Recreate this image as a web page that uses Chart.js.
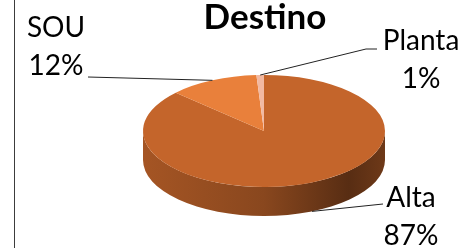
<!DOCTYPE html>
<html>
<head>
<meta charset="utf-8">
<script src="https://cdn.jsdelivr.net/npm/chart.js@4"></script>
<style>
  html, body { margin: 0; padding: 0; background: #fff; }
  #wrap { position: relative; width: 466px; height: 248px; }
  #frame { position: absolute; left: 14px; top: 0; height: 248px; border-left: 1px solid #3c3c3c; }
</style>
</head>
<body>
<div id="wrap">
  <canvas id="destinoChart"></canvas>
  <div id="frame"></div>
</div>
<script>
// Data
const categories = ['Alta', 'SOU', 'Planta'];
const values = [87, 12, 1];
const sliceColors = ['#C4652B', '#E9803B', '#F2B9A2'];

function darken(hex, f) {
    const n = parseInt(hex.slice(1), 16);
    const r = Math.round(((n >> 16) & 255) * f);
    const g = Math.round(((n >> 8) & 255) * f);
    const b = Math.round((n & 255) * f);
    return `rgb(${r}, ${g}, ${b})`;
}

// maps the flat pie onto a tilted ellipse
function pieTransform(chart) {
    const arc = chart.getDatasetMeta(0).data[0];
    const o = chart.options.plugins.tilt;
    return {
        cx: arc.x, cy: arc.y, r: arc.outerRadius,
        sx: o.rx / arc.outerRadius, sy: o.ry / arc.outerRadius,
        tx: o.cx, ty: o.cy
    };
}

const tiltPlugin = {
    id: 'tilt',
    beforeDatasetsDraw(chart, args, opts) {
        const ctx = chart.ctx;
        const t = pieTransform(chart);
        ctx.save();
        ctx.translate(t.tx, t.ty);
        ctx.scale(t.sx, t.sy);
        ctx.translate(-t.cx, -t.cy);
        const dd = opts.depth / t.sy;
        // side wall, only the front half shows
        chart.getDatasetMeta(0).data.forEach((el, i) => {
            for (let k = -1; k <= 1; k++) {
                const a0 = Math.max(el.startAngle, k * 2 * Math.PI);
                const a1 = Math.min(el.endAngle, k * 2 * Math.PI + Math.PI);
                if (a1 <= a0) continue;
                const g = ctx.createLinearGradient(t.cx - t.r, 0, t.cx + t.r, 0);
                opts.shade.forEach(([stop, f]) => g.addColorStop(stop, darken(sliceColors[i], f)));
                ctx.beginPath();
                ctx.arc(el.x, el.y, t.r, a0, a1);
                ctx.arc(el.x, el.y + dd, t.r, a1, a0, true);
                ctx.closePath();
                ctx.fillStyle = g;
                ctx.fill();
            }
        });
    },
    afterDatasetsDraw(chart) {
        chart.ctx.restore();
    }
};

const labelPlugin = {
    id: 'sliceLabels',
    afterDraw(chart, args, opts) {
        const ctx = chart.ctx;
        const t = pieTransform(chart);
        const depth = chart.options.plugins.tilt.depth;
        const total = values.reduce((a, b) => a + b, 0);
        ctx.save();
        chart.getDatasetMeta(0).data.forEach((el, i) => {
            const lay = opts.layout[categories[i]];
            const mid = (el.startAngle + el.endAngle) / 2;
            const px = t.tx + Math.cos(mid) * t.r * t.sx;
            let py = t.ty + Math.sin(mid) * t.r * t.sy;
            if (Math.sin(mid) > 0) py += depth;

            ctx.strokeStyle = opts.lineColor;
            ctx.lineWidth = 1;
            ctx.beginPath();
            ctx.moveTo(px, py);
            lay.leader.forEach(p => ctx.lineTo(p[0], p[1]));
            ctx.stroke();

            ctx.fillStyle = '#000';
            ctx.font = opts.font;
            ctx.textAlign = 'center';
            ctx.textBaseline = 'alphabetic';
            ctx.fillText(categories[i], lay.x, lay.y);
            ctx.fillText(Math.round(values[i] / total * 100) + '%', lay.x, lay.y + opts.lineGap);
        });
        ctx.restore();
    }
};

const ctx = document.getElementById('destinoChart').getContext('2d');

new Chart(ctx, {
    type: 'pie',
    data: {
        labels: categories,
        datasets: [{
            data: values,
            backgroundColor: sliceColors,
            borderWidth: 0,
            clip: false
        }]
    },
    options: {
        responsive: true,
        maintainAspectRatio: false,
        animation: false,
        events: [],
        layout: { padding: { left: 64 } },
        plugins: {
            legend: { display: false },
            tooltip: { enabled: false },
            title: {
                display: true,
                text: 'Destino',
                color: '#000',
                font: { family: 'Lato', size: 35, weight: 'bold', lineHeight: 1 },
                padding: { top: 0, bottom: 0 }
            },
            tilt: {
                cx: 264, cy: 131, rx: 121, ry: 56, depth: 29,
                shade: [[0, 0.84], [0.5, 0.7], [0.85, 0.45], [1, 0.56]]
            },
            sliceLabels: {
                font: '28px Lato',
                lineGap: 38,
                lineColor: '#222',
                layout: {
                    Alta: { x: 411, y: 207, leader: [[383, 204]] },
                    SOU: { x: 56, y: 37, leader: [[88, 77]] },
                    Planta: { x: 421, y: 50, leader: [[366, 49], [377, 49]] }
                }
            }
        }
    },
    plugins: [tiltPlugin, labelPlugin]
});
</script>
</body>
</html>
